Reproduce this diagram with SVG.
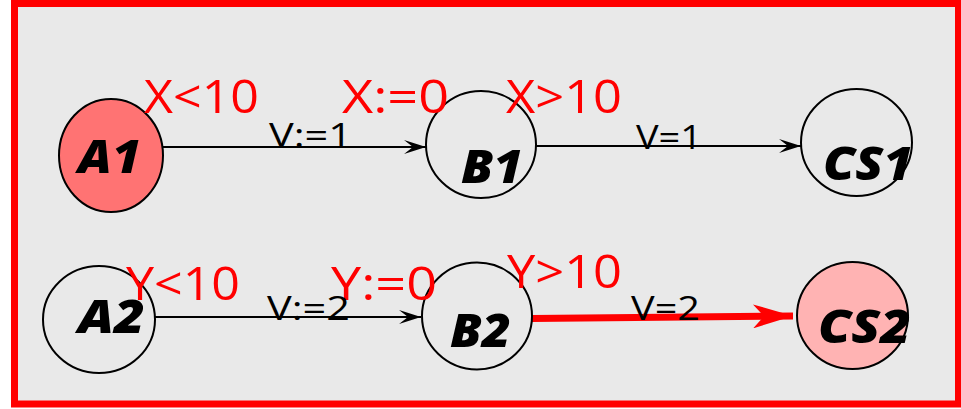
<svg xmlns="http://www.w3.org/2000/svg" width="961" height="409" viewBox="0 0 961 409">
<style>
.node{stroke:#000;stroke-width:2}
.lbl{font-family:"Open Sans","Noto Sans",sans-serif;font-weight:800;font-style:italic;font-size:46px;fill:#000}
.cond{font-family:"Open Sans","Noto Sans",sans-serif;font-size:46px;fill:#ff0000}
.act{font-family:"Open Sans","Noto Sans",sans-serif;font-size:33px;fill:#000}
.edge{stroke:#000;stroke-width:2;fill:none}
</style>
<defs>
<marker id="ah" viewBox="0 0 22 14" refX="22" refY="7" markerWidth="22" markerHeight="14" markerUnits="userSpaceOnUse" orient="auto">
<path d="M0,0 L22,7 L0,14 L9,7 Z" fill="#000"/>
</marker>
<marker id="ahr" viewBox="0 0 40 24" refX="40" refY="12" markerWidth="40" markerHeight="24" markerUnits="userSpaceOnUse" orient="auto">
<path d="M0,0 L40,12 L0,24 L11,12 Z" fill="#ff0000"/>
</marker>
</defs>
<rect x="14.5" y="3.5" width="944" height="400.5" fill="#e9e9e9" stroke="#ff0000" stroke-width="7"/>
<g id="connectors">
<line class="edge" x1="163" y1="147" x2="426" y2="147" marker-end="url(#ah)"/>
<line class="edge" x1="536" y1="146" x2="801" y2="146" marker-end="url(#ah)"/>
<line class="edge" x1="155" y1="317" x2="421" y2="317" marker-end="url(#ah)"/>
<line x1="532" y1="318.5" x2="793" y2="316" stroke="#ff0000" stroke-width="7" marker-end="url(#ahr)"/>
</g>
<g id="A1"><ellipse class="node" cx="111" cy="155.5" rx="52" ry="56.5" fill="#ff7373"/><text class="lbl" x="78" y="173" textLength="63" lengthAdjust="spacingAndGlyphs">A1</text></g>
<g id="B1"><ellipse class="node" cx="481" cy="144.5" rx="55" ry="53.5" fill="none"/><text class="lbl" x="461" y="183" textLength="62" lengthAdjust="spacingAndGlyphs">B1</text></g>
<g id="CS1"><ellipse class="node" cx="856.5" cy="142.5" rx="55.5" ry="53.5" fill="none"/><text class="lbl" x="823" y="180" textLength="90" lengthAdjust="spacingAndGlyphs">CS1</text></g>
<g id="A2"><ellipse class="node" cx="99" cy="319.5" rx="56" ry="53.5" fill="none"/><text class="lbl" x="78" y="333" textLength="67" lengthAdjust="spacingAndGlyphs">A2</text></g>
<g id="B2"><ellipse class="node" cx="477" cy="316" rx="55" ry="53.5" fill="none"/><text class="lbl" x="450" y="347" textLength="61" lengthAdjust="spacingAndGlyphs">B2</text></g>
<g id="CS2"><ellipse class="node" cx="852.5" cy="315.5" rx="55.5" ry="53.5" fill="#ffb3b3"/><text class="lbl" x="818" y="343" textLength="93" lengthAdjust="spacingAndGlyphs">CS2</text></g>
<g id="labels">
<text class="cond" x="144" y="113" textLength="115" lengthAdjust="spacingAndGlyphs">X&lt;10</text>
<text class="cond" x="342" y="113" textLength="107" lengthAdjust="spacingAndGlyphs">X:=0</text>
<text class="cond" x="506" y="113" textLength="116" lengthAdjust="spacingAndGlyphs">X&gt;10</text>
<text class="act" x="269" y="147" textLength="83" lengthAdjust="spacingAndGlyphs">V:=1</text>
<text class="act" x="636" y="149" textLength="66" lengthAdjust="spacingAndGlyphs">V=1</text>
<text class="cond" x="126" y="300" textLength="114" lengthAdjust="spacingAndGlyphs">Y&lt;10</text>
<text class="cond" x="331" y="300" textLength="106" lengthAdjust="spacingAndGlyphs">Y:=0</text>
<text class="act" x="267" y="320" textLength="83" lengthAdjust="spacingAndGlyphs">V:=2</text>
<text class="cond" x="507" y="288" textLength="115" lengthAdjust="spacingAndGlyphs">Y&gt;10</text>
<text class="act" x="631" y="320" textLength="69" lengthAdjust="spacingAndGlyphs">V=2</text>
</g>
</svg>
